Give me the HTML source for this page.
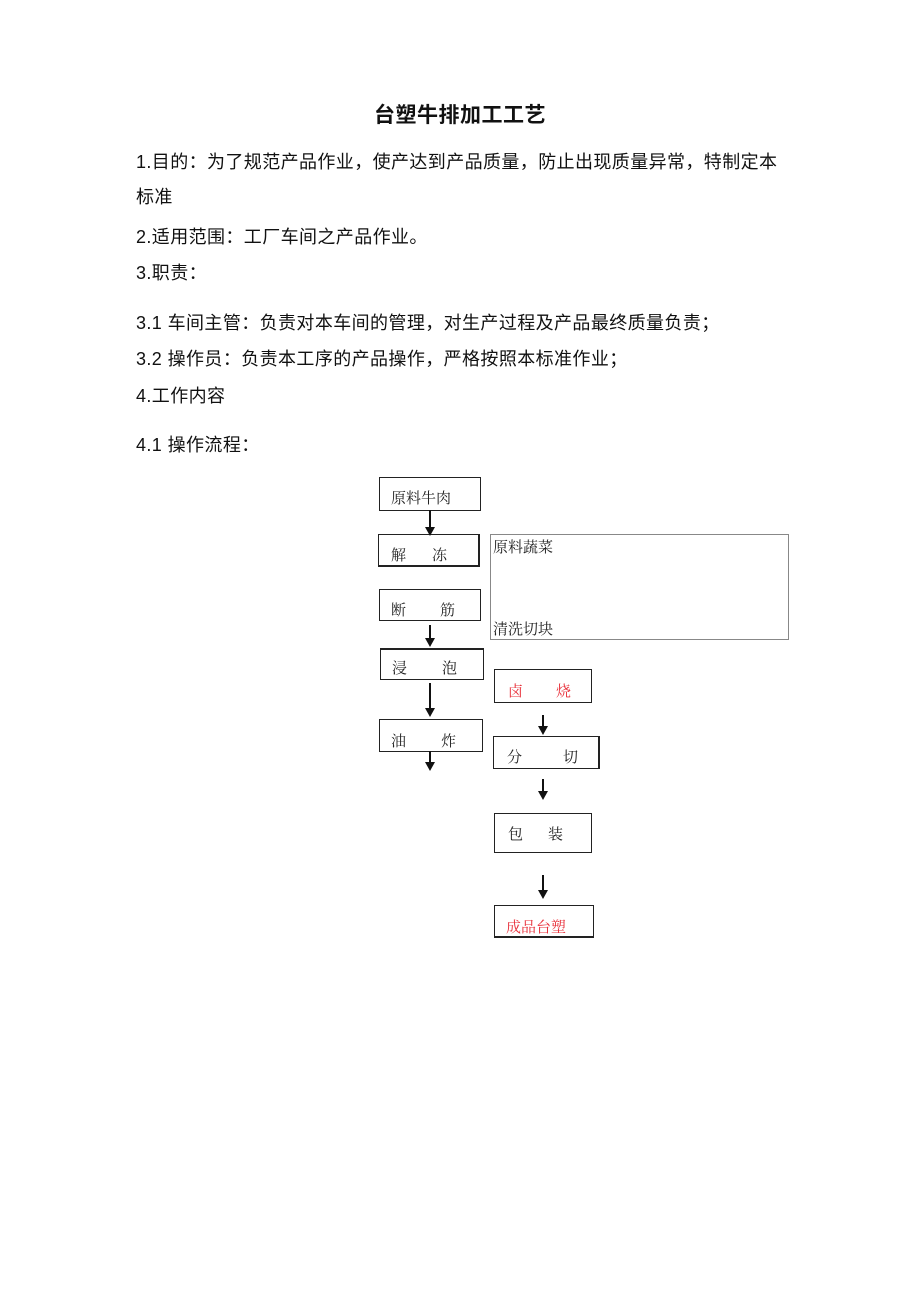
<!DOCTYPE html>
<html><head><meta charset="utf-8"><style>
body{margin:0;background:#fff;}
#p{position:relative;width:920px;height:1302px;background:#fff;font-family:"Liberation Sans","Noto Sans CJK SC",sans-serif;color:#111;}
.t{position:absolute;white-space:nowrap;font-size:18px;letter-spacing:0.4px;line-height:20px;}
.b{position:absolute;border:1px solid #222;box-sizing:border-box;}
.s{position:absolute;font-family:"Noto Serif CJK SC","Liberation Serif",serif;font-size:15px;line-height:16px;white-space:nowrap;color:#222;}
.r{color:#e8303a;}
.v{position:absolute;width:1.5px;background:#111;}
.h{position:absolute;width:0;height:0;border-left:5px solid transparent;border-right:5px solid transparent;border-top:9px solid #111;}
</style></head><body><div id="p">
<div class="t" style="left:0;width:920px;text-align:center;top:106px;font-size:21px;font-weight:bold;letter-spacing:0.5px;">台塑牛排加工工艺</div>
<div class="t" style="left:136px;top:152px;">1.目的：为了规范产品作业，使产达到产品质量，防止出现质量异常，特制定本</div>
<div class="t" style="left:136px;top:187px;">标准</div>
<div class="t" style="left:136px;top:227px;">2.适用范围：工厂车间之产品作业。</div>
<div class="t" style="left:136px;top:263px;">3.职责：</div>
<div class="t" style="left:136px;top:313px;">3.1 车间主管：负责对本车间的管理，对生产过程及产品最终质量负责；</div>
<div class="t" style="left:136px;top:349px;">3.2 操作员：负责本工序的产品操作，严格按照本标准作业；</div>
<div class="t" style="left:136px;top:386px;">4.工作内容</div>
<div class="t" style="left:136px;top:435px;">4.1 操作流程：</div>

<div class="b" style="left:379px;top:477px;width:102px;height:34px;"></div>
<div class="s" style="left:391px;top:490px;">原料牛肉</div>
<div class="b" style="left:378px;top:534px;width:102px;height:33px;border-right-width:2px;border-bottom-width:2px;"></div>
<div class="s" style="left:391px;top:547px;">解</div><div class="s" style="left:432px;top:547px;">冻</div>
<div class="b" style="left:379px;top:589px;width:102px;height:32px;"></div>
<div class="s" style="left:391px;top:602px;">断</div><div class="s" style="left:440px;top:602px;">筋</div>
<div class="b" style="left:380px;top:648px;width:104px;height:32px;border-top-width:2px;"></div>
<div class="s" style="left:392px;top:660px;">浸</div><div class="s" style="left:442px;top:660px;">泡</div>
<div class="b" style="left:379px;top:719px;width:104px;height:33px;"></div>
<div class="s" style="left:391px;top:733px;">油</div><div class="s" style="left:441px;top:733px;">炸</div>

<div class="b" style="left:490px;top:534px;width:299px;height:106px;border-color:#888;"></div>
<div class="s" style="left:493px;top:539px;">原料蔬菜</div>
<div class="s" style="left:493px;top:621px;">清洗切块</div>

<div class="b" style="left:494px;top:669px;width:98px;height:34px;"></div>
<div class="s r" style="left:508px;top:683px;">卤</div><div class="s r" style="left:556px;top:683px;">烧</div>
<div class="b" style="left:493px;top:736px;width:107px;height:33px;border-right-width:2px;"></div>
<div class="s" style="left:507px;top:749px;">分</div><div class="s" style="left:563px;top:749px;">切</div>
<div class="b" style="left:494px;top:813px;width:98px;height:40px;"></div>
<div class="s" style="left:508px;top:826px;">包</div><div class="s" style="left:548px;top:826px;">装</div>
<div class="b" style="left:494px;top:905px;width:100px;height:33px;border-bottom-width:2px;"></div>
<div class="s r" style="left:506px;top:919px;">成品台塑</div>

<div class="v" style="left:429px;top:510px;height:18px;"></div><div class="h" style="left:425px;top:527px;"></div>
<div class="v" style="left:429px;top:625px;height:14px;"></div><div class="h" style="left:425px;top:638px;"></div>
<div class="v" style="left:429px;top:683px;height:26px;"></div><div class="h" style="left:425px;top:708px;"></div>
<div class="v" style="left:429px;top:751px;height:12px;"></div><div class="h" style="left:425px;top:762px;"></div>
<div class="v" style="left:542px;top:715px;height:12px;"></div><div class="h" style="left:538px;top:726px;"></div>
<div class="v" style="left:542px;top:779px;height:13px;"></div><div class="h" style="left:538px;top:791px;"></div>
<div class="v" style="left:542px;top:875px;height:16px;"></div><div class="h" style="left:538px;top:890px;"></div>
</div></body></html>
